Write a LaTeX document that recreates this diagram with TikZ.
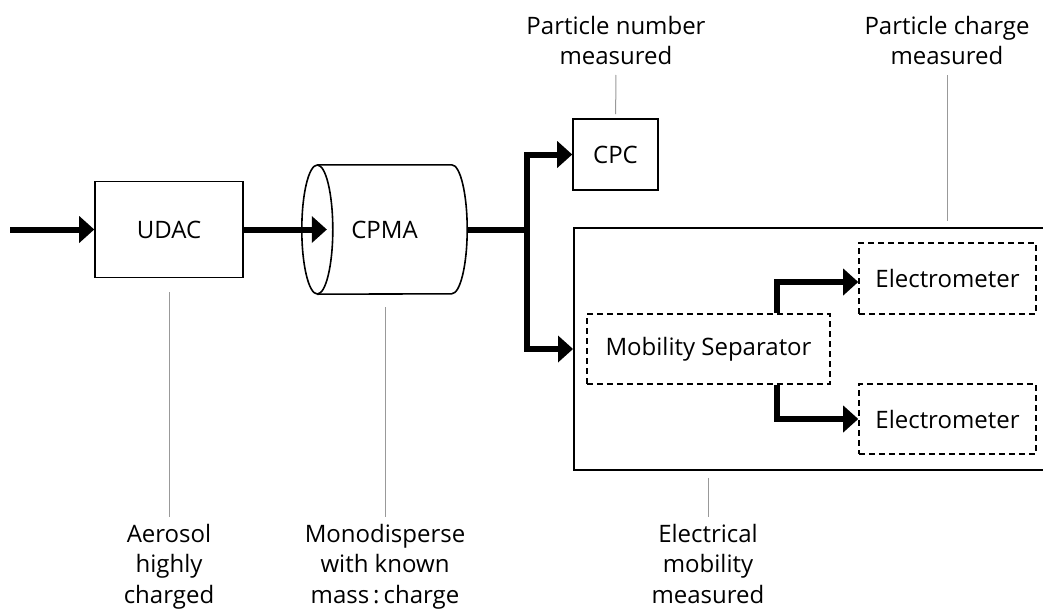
\documentclass[tikz,border=0pt]{standalone}
\usepackage{fontspec}
\setmainfont{Open Sans}
\usetikzlibrary{arrows.meta,positioning,calc}

\begin{document}
\begin{tikzpicture}[x=1pt,y=-1pt,font=\fontsize{24}{30.5}\selectfont,
  block/.style={draw,line width=1.6pt,inner sep=0pt},
  dashbox/.style={draw,line width=1.6pt,dash pattern=on 6pt off 4pt,inner sep=0pt},
  pipe/.style={line width=6pt,line join=miter},
  flow/.style={pipe,-{Triangle[length=15pt,width=27pt,line width=0pt]}},
  note/.style={align=center,inner xsep=0pt},
  leader/.style={draw=black!40,line width=1pt}]
\useasboundingbox (0,0) rectangle (1043,610);
\clip (0,0) rectangle (1043,610);

\node[block,minimum width=148pt,minimum height=96pt] (udac) at (169,229.5) {UDAC};
\node[inner sep=0pt,minimum width=165pt,minimum height=129pt] (cpma) at (384.5,229.5) {CPMA};
\node[block,minimum width=85pt,minimum height=71pt] (cpc) at (615.5,154.5) {CPC};
\node[block,minimum width=500pt,minimum height=242pt,anchor=west] (mobsys) at (573,349) {};
\node[dashbox,minimum width=243pt,minimum height=70pt] (sep) at (708.5,349) {Mobility Separator};
\node[dashbox,minimum width=177pt,minimum height=71pt] (elec1) at (947.5,278.5) {Electrometer};
\node[dashbox,minimum width=177pt,minimum height=70pt] (elec2) at (947.5,419) {Electrometer};

% cylinder round the CPMA node
\draw[line width=1.6pt] ([xshift=15.5pt]cpma.north west) -- ([xshift=-15.5pt]cpma.north east)
  arc[start angle=90,end angle=-90,x radius=15.5pt,y radius=64.5pt] -- ([xshift=15.5pt]cpma.south west);
\draw[line width=1.6pt] ([xshift=15.5pt]cpma.west) ellipse[x radius=15.5pt,y radius=64.5pt];

\coordinate (in) at (10,229.5);
\coordinate (split) at (527,229.5);

\draw[flow] (in) -- (udac);
\draw[flow] (udac) -- ([xshift=25pt]cpma.west);
\draw[pipe] (cpma.east) -- (split);
\draw[flow] (split) |- (cpc);
\draw[flow] (split) |- (mobsys.west);
\draw[flow] ([xshift=68.5pt]sep.north) |- ([yshift=-3.5pt]elec1.west);
\draw[flow] ([xshift=68.5pt]sep.south) |- (elec2);

% labels
\node[note,inner ysep=10pt,anchor=south] (lblcpc) at (616,75) {Particle number\\measured};
\node[note,inner ysep=10pt,anchor=south] (lblcharge) at (947,75) {Particle charge\\measured};
\node[note,inner ysep=7pt,anchor=north] (lblaero) at (169,517) {Aerosol\\highly\\charged};
\node[note,inner ysep=7pt,anchor=north] (lblmono) at (385,517) {Monodisperse\\with known\\mass\,:\,charge};
\node[note,inner ysep=7pt,anchor=north] (lblelec) at (708,517) {Electrical\\mobility\\measured};

\draw[leader,shorten >=4pt] (lblcpc) -- (cpc);
\draw[leader,shorten >=6pt] (lblcharge) -- (lblcharge |- mobsys.north);
\draw[leader,shorten <=14pt] (udac) -- (lblaero);
\draw[leader,shorten <=13pt] (lblmono |- cpma.south) -- (lblmono);
\draw[leader,shorten <=7pt] (lblelec |- mobsys.south) -- (lblelec);
\end{tikzpicture}
\end{document}
